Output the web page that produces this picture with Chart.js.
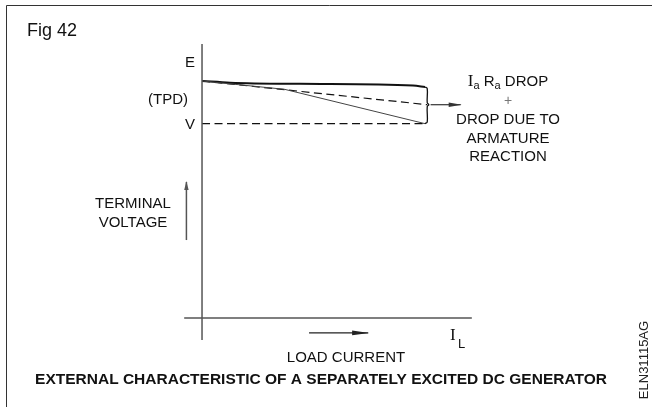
<!DOCTYPE html>
<html>
<head>
<meta charset="utf-8">
<script src="https://cdn.jsdelivr.net/npm/chart.js@4/dist/chart.umd.min.js"></script>
<style>
  html, body { margin: 0; padding: 0; background: #ffffff; }
  canvas { display: block; }
</style>
</head>
<body>
<canvas id="chart" width="652" height="407"></canvas>
<script>
// Load current as a fraction of full load, voltage as % of the no-load emf E.

// Generated emf after the Ia*Ra drop (heavy line)
const emfCurrent = [0, 0.126, 0.44, 0.946, 1.0];
const emfVoltage = [100, 99.3, 98.8, 98.1, 97.5];

// Drop due to armature reaction (dashed)
const reactionCurrent = [0, 1.01];
const reactionVoltage = [100, 90];

// Terminal voltage curve (thin line)
const terminalCurrent = [0, 0.37, 1.0];
const terminalVoltage = [100, 96.5, 82];

// Full-load terminal voltage V (dashed reference)
const vRefCurrent = [0, 1.0];
const vRefVoltage = [82, 82];

// Brace spanning the total drop at full load
const braceCurrent = [1.0, 1.01, 1.01, 1.017, 1.01, 1.01, 1.0];
const braceVoltage = [97.5, 96.8, 90.8, 90, 89.2, 82.7, 82];

// Pointer from the brace to the note
const pointerCurrent = [1.025, 1.16];
const pointerVoltage = [90, 90];

// Axes and direction arrows
const yAxisCurrent = [0, 0];
const yAxisVoltage = [-9.3, 115.6];
const xAxisCurrent = [-0.08, 1.21];
const xAxisVoltage = [0, 0];
const upArrowCurrent = [-0.07, -0.07];
const upArrowVoltage = [32.9, 57.4];
const rightArrowCurrent = [0.48, 0.745];
const rightArrowVoltage = [-6.3, -6.3];

// Voltage marks on the vertical axis
const yMarkLabels = ['E', '(TPD)', 'V'];
const yMarkValues = [108, 92.4, 82];

const noteLines = ['DROP DUE TO', 'ARMATURE', 'REACTION'];

const pts = (xs, ys) => xs.map((x, i) => ({ x: x, y: ys[i] }));

function ds(xs, ys, style) {
  return Object.assign({
    data: pts(xs, ys),
    borderColor: '#111111',
    borderWidth: 1.2,
    pointRadius: 0,
    fill: false,
    tension: 0
  }, style);
}

const axisGrey = '#555555';

const datasets = [
  ds(yAxisCurrent, yAxisVoltage, { borderColor: axisGrey, borderWidth: 1.5 }),
  ds(xAxisCurrent, xAxisVoltage, { borderColor: axisGrey, borderWidth: 1.5 }),
  ds(upArrowCurrent, upArrowVoltage, { borderColor: axisGrey, borderWidth: 1.5, arrow: { len: 8, half: 2.2 } }),
  ds(rightArrowCurrent, rightArrowVoltage, { borderColor: '#222222', borderWidth: 1.2, arrow: { len: 16, half: 2.4 } }),
  ds(vRefCurrent, vRefVoltage, { borderDash: [8, 4.5], borderWidth: 1.2 }),
  ds(terminalCurrent, terminalVoltage, { borderColor: '#444444', borderWidth: 1 }),
  ds(reactionCurrent, reactionVoltage, { borderDash: [8, 4.5], borderWidth: 1.2 }),
  ds(emfCurrent, emfVoltage, { borderWidth: 2, cubicInterpolationMode: 'monotone' }),
  ds(braceCurrent, braceVoltage, { borderWidth: 1.3, tension: 0.35 }),
  ds(pointerCurrent, pointerVoltage, { borderColor: '#333333', borderWidth: 1.2, arrow: { len: 12, half: 2.2 } })
];

// Filled arrowheads at the last point of flagged datasets
const arrowHeads = {
  id: 'arrowHeads',
  afterDatasetsDraw(chart) {
    const ctx = chart.ctx;
    chart.data.datasets.forEach((d, i) => {
      if (!d.arrow) return;
      const pts = chart.getDatasetMeta(i).data;
      const a = pts[pts.length - 2], b = pts[pts.length - 1];
      const ang = Math.atan2(b.y - a.y, b.x - a.x);
      ctx.save();
      ctx.translate(b.x, b.y);
      ctx.rotate(ang);
      ctx.fillStyle = d.borderColor;
      ctx.beginPath();
      ctx.moveTo(1, 0);
      ctx.lineTo(-d.arrow.len, -d.arrow.half);
      ctx.lineTo(-d.arrow.len, d.arrow.half);
      ctx.closePath();
      ctx.fill();
      ctx.restore();
    });
  }
};

// Labels, notes and figure captions
const labels = {
  id: 'labels',
  afterDraw(chart) {
    const ctx = chart.ctx;
    const ys = chart.scales.y;
    const sans = (s, w) => (w || '') + ' ' + s + 'px "Liberation Sans", Arial, sans-serif';
    ctx.save();
    ctx.fillStyle = '#111111';
    ctx.textBaseline = 'middle';

    // frame edges
    ctx.strokeStyle = '#333333';
    ctx.lineWidth = 1;
    ctx.beginPath();
    ctx.moveTo(6.5, 407);
    ctx.lineTo(6.5, 5.5);
    ctx.lineTo(652, 5.5);
    ctx.stroke();

    ctx.font = sans(18);
    ctx.textAlign = 'left';
    ctx.fillText('Fig 42', 27, 31);

    // axis marks
    ctx.font = sans(15);
    ctx.textAlign = 'right';
    yMarkLabels.forEach((t, i) => {
      const x = t.startsWith('(') ? 188 : 195;
      ctx.fillText(t, x, ys.getPixelForValue(yMarkValues[i]) + 1);
    });

    ctx.textAlign = 'center';
    ctx.fillText('TERMINAL', 133, 204);
    ctx.fillText('VOLTAGE', 133, 223);
    ctx.fillText('LOAD CURRENT', 346, 358);

    // I_L
    ctx.textAlign = 'left';
    ctx.font = '17px "Liberation Serif", "Times New Roman", serif';
    ctx.fillText('I', 450, 336);
    ctx.font = sans(13);
    ctx.fillText('L', 458, 344);

    // Ia Ra DROP note
    const cx = 508, y0 = 82;
    const segs = [
      { t: 'I', f: '17px "Liberation Serif", serif', dy: 0 },
      { t: 'a', f: sans(11), dy: 4 },
      { t: ' R', f: sans(15), dy: 0 },
      { t: 'a', f: sans(11), dy: 4 },
      { t: ' DROP', f: sans(15), dy: 0 }
    ];
    let w = 0;
    segs.forEach(s => { ctx.font = s.f; s.w = ctx.measureText(s.t).width; w += s.w; });
    let x = cx - w / 2;
    segs.forEach(s => { ctx.font = s.f; ctx.fillText(s.t, x, y0 + s.dy); x += s.w; });

    ctx.textAlign = 'center';
    ctx.fillStyle = '#777777';
    ctx.font = sans(14);
    ctx.fillText('+', cx, 101);
    ctx.fillStyle = '#111111';
    ctx.font = sans(15);
    noteLines.forEach((t, i) => ctx.fillText(t, cx, 120 + i * 18.5));

    // caption
    ctx.font = sans(15.5, 'bold');
    ctx.fillText('EXTERNAL CHARACTERISTIC OF A SEPARATELY EXCITED DC GENERATOR', 321, 380);

    // drawing reference, rotated
    ctx.save();
    ctx.translate(644, 360);
    ctx.rotate(-Math.PI / 2);
    ctx.font = sans(13);
    ctx.fillStyle = '#222222';
    ctx.fillText('ELN31115AG', 0, 0);
    ctx.restore();

    ctx.restore();
  }
};

new Chart(document.getElementById('chart'), {
  type: 'line',
  data: { datasets: datasets },
  options: {
    responsive: false,
    animation: false,
    events: [],
    layout: { padding: 0 },
    plugins: { legend: { display: false }, tooltip: { enabled: false } },
    scales: {
      x: { type: 'linear', min: -0.906, max: 2.018, display: false },
      y: { type: 'linear', min: -37.55, max: 134.18, display: false }
    }
  },
  plugins: [arrowHeads, labels]
});
</script>
</body>
</html>
